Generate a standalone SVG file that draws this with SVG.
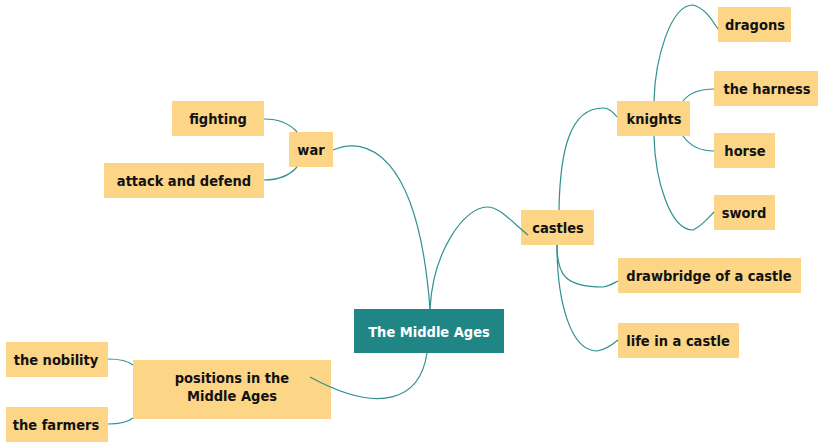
<svg xmlns="http://www.w3.org/2000/svg" width="818" height="443" viewBox="0 0 818 443">
<style>
.n{fill:#FCD587}
.c{fill:#208585}
text{font-family:"DejaVu Sans Condensed","DejaVu Sans",sans-serif;font-weight:bold;font-size:14.5px;fill:#111;text-anchor:middle}
.w{fill:#ffffff}
.l{fill:none;stroke:#2E9090;stroke-width:1.2}
</style>
<rect width="818" height="443" fill="#ffffff"/>
<g id="center"><rect class="c" x="354" y="309" width="150" height="44"/><text class="w" x="429" y="337">The Middle Ages</text></g>
<g id="war"><rect class="n" x="289" y="132" width="44" height="35"/><text x="311" y="155">war</text></g>
<g id="fighting"><rect class="n" x="172" y="101" width="92" height="35"/><text x="218" y="124">fighting</text></g>
<g id="attack"><rect class="n" x="104" y="163" width="160" height="35"/><text x="184" y="186">attack and defend</text></g>
<g id="castles"><rect class="n" x="521" y="210" width="73" height="35"/><text x="558" y="233">castles</text></g>
<g id="knights"><rect class="n" x="617" y="101" width="73" height="35"/><text x="654" y="124">knights</text></g>
<g id="dragons"><rect class="n" x="718" y="7" width="73" height="35"/><text x="755" y="30">dragons</text></g>
<g id="harness"><rect class="n" x="714" y="71" width="104" height="35"/><text x="767" y="94">the harness</text></g>
<g id="horse"><rect class="n" x="714" y="133" width="61" height="35"/><text x="745" y="156">horse</text></g>
<g id="sword"><rect class="n" x="714" y="195" width="61" height="35"/><text x="744" y="218">sword</text></g>
<g id="drawbridge"><rect class="n" x="618" y="258" width="183" height="35"/><text x="709" y="281">drawbridge of a castle</text></g>
<g id="life"><rect class="n" x="618" y="323" width="121" height="35"/><text x="678" y="346">life in a castle</text></g>
<g id="positions"><rect class="n" x="133" y="360" width="198" height="59"/><text x="232" y="383">positions in the</text><text x="232" y="401">Middle Ages</text></g>
<g id="nobility"><rect class="n" x="6" y="342" width="102" height="35"/><text x="56" y="365">the nobility</text></g>
<g id="farmers"><rect class="n" x="6" y="407" width="102" height="35"/><text x="56" y="430">the farmers</text></g>
<g id="connectors">
<path class="l" d="M333,150 C365,136 418,150 430,309"/>
<path class="l" d="M430,309 C433,250 465,207 487,207 C500,207 512,222 528,235"/>
<path class="l" d="M427,353 C420,400 380,415 310,377"/>
<path class="l" d="M264,119 C280,119 290,124 297,132"/>
<path class="l" d="M264,180 C280,180 290,175 297,167"/>
<path class="l" d="M559,210 C560,150 570,108 603,108 C610,108 614,113 617,117"/>
<path class="l" d="M654,101 C655,60 670,5 693,5 C705,8 712,20 718,29"/>
<path class="l" d="M683,101 C690,92 700,89 714,89"/>
<path class="l" d="M683,136 C690,146 700,151 714,151"/>
<path class="l" d="M654,136 C655,180 670,230 693,230 C702,226 708,218 714,212"/>
<path class="l" d="M557,245 C557,275 565,287 603,287 C610,286 614,283 618,281"/>
<path class="l" d="M557,245 C557,300 570,351 597,351 C605,350 612,345 618,340"/>
<path class="l" d="M108,359 C120,359 128,361 133,365"/>
<path class="l" d="M108,424 C120,424 128,422 133,418"/>
</g>
</svg>
